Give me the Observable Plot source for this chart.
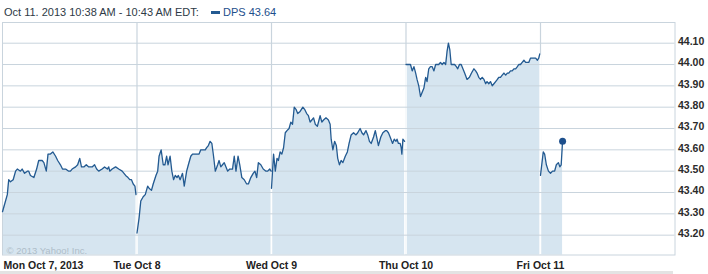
<!DOCTYPE html>
<html>
<head>
<meta charset="utf-8">
<script src="https://cdn.jsdelivr.net/npm/d3@7"></script>
<script src="https://cdn.jsdelivr.net/npm/@observablehq/plot@0.6"></script>
<style>
  html, body { margin: 0; padding: 0; background: #fff; }
  body { width: 708px; height: 274px; overflow: hidden; position: relative; font-family: "Liberation Sans", Arial, sans-serif; }
  .hdr { position: absolute; font-size: 11px; line-height: 11px; white-space: nowrap; }
  #t1 { left: 4px; top: 7px; color: #2e3a46; }
  #sw { position: absolute; left: 211px; top: 11px; width: 9px; height: 3px; background: #235a91; }
  #t2 { left: 223px; top: 7px; color: #1d4f8c; }
  #chart { position: absolute; left: 0; top: 16px; }
  #bar { position: absolute; left: 0; top: 271px; width: 673px; height: 3px; background: #e3e3e3; }
</style>
</head>
<body>
<span class="hdr" id="t1">Oct 11, 2013 10:38 AM - 10:43 AM EDT:</span>
<div id="sw"></div>
<span class="hdr" id="t2">DPS 43.64</span>
<div id="chart"></div>
<div id="bar"></div>
<script>
// Day labels (x ticks at start of each session)
const dayLabels = ["Mon Oct 7, 2013", "Tue Oct 8", "Wed Oct 9", "Thu Oct 10", "Fri Oct 11"];
const yTicks = [43.2, 43.3, 43.4, 43.5, 43.6, 43.7, 43.8, 43.9, 44.0, 44.1];
const yDomain = [43.107, 44.197];
const ticker = "DPS";
const watermark = "© 2013 Yahoo! Inc.";

// [minutes after 9:30 open, price]
const mon = [[0,43.31],[14,43.39],[18,43.46],[23,43.45],[31,43.46],[38,43.50],[43,43.51],[52,43.50],[57,43.51],[64,43.49],[72,43.50],[76,43.50],[81,43.48],[91,43.47],[99,43.51],[105,43.55],[115,43.55],[120,43.54],[127,43.50],[132,43.58],[139,43.58],[146,43.59],[154,43.57],[160,43.55],[168,43.53],[174,43.51],[183,43.51],[192,43.50],[197,43.50],[202,43.51],[212,43.52],[218,43.53],[224,43.56],[229,43.52],[236,43.52],[243,43.53],[250,43.52],[260,43.52],[267,43.53],[273,43.51],[279,43.50],[289,43.51],[296,43.52],[304,43.51],[308,43.52],[311,43.50],[318,43.51],[328,43.52],[337,43.51],[347,43.50],[357,43.48],[364,43.47],[369,43.46],[374,43.46],[379,43.44],[384,43.43],[387,43.39]];
const tue = [[0,43.21],[6,43.28],[11,43.36],[18,43.38],[24,43.39],[31,43.43],[35,43.42],[42,43.41],[47,43.44],[55,43.48],[60,43.50],[64,43.57],[70,43.60],[76,43.53],[81,43.53],[86,43.57],[90,43.53],[96,43.57],[101,43.50],[106,43.46],[111,43.48],[116,43.47],[120,43.48],[125,43.46],[132,43.49],[137,43.43],[144,43.50],[149,43.53],[156,43.57],[161,43.58],[169,43.58],[180,43.58],[185,43.60],[192,43.60],[198,43.60],[202,43.61],[207,43.62],[212,43.64],[217,43.63],[222,43.57],[227,43.50],[234,43.53],[238,43.55],[243,43.52],[248,43.53],[253,43.54],[258,43.52],[263,43.50],[269,43.51],[277,43.51],[282,43.57],[287,43.50],[293,43.57],[298,43.53],[304,43.47],[311,43.46],[318,43.44],[323,43.44],[330,43.47],[337,43.49],[342,43.50],[347,43.47],[352,43.54],[359,43.53],[366,43.51],[374,43.50],[379,43.50],[385,43.51],[389,43.50]];
const wed = [[0,43.42],[6,43.58],[11,43.50],[16,43.56],[20,43.55],[25,43.59],[30,43.58],[35,43.61],[40,43.68],[45,43.69],[51,43.70],[56,43.73],[61,43.72],[66,43.80],[71,43.79],[76,43.77],[83,43.78],[91,43.80],[96,43.79],[102,43.77],[107,43.76],[112,43.73],[117,43.74],[122,43.75],[127,43.72],[133,43.71],[141,43.76],[146,43.73],[151,43.74],[158,43.75],[165,43.74],[170,43.72],[173,43.65],[178,43.60],[183,43.64],[188,43.62],[192,43.56],[197,43.53],[202,43.55],[207,43.54],[214,43.57],[220,43.59],[225,43.63],[231,43.67],[238,43.68],[245,43.67],[250,43.68],[257,43.70],[262,43.68],[267,43.67],[274,43.69],[279,43.67],[284,43.64],[289,43.63],[296,43.66],[301,43.69],[305,43.66],[310,43.62],[317,43.66],[323,43.68],[330,43.69],[334,43.69],[339,43.68],[344,43.66],[351,43.63],[356,43.65],[361,43.64],[364,43.65],[368,43.63],[373,43.63],[376,43.61],[378,43.58],[381,43.65],[386,43.64]];
const thu = [[0,44.00],[8,44.00],[13,44.00],[18,43.97],[23,43.99],[28,43.96],[32,43.93],[37,43.90],[42,43.85],[47,43.87],[52,43.89],[57,43.94],[61,43.92],[66,43.98],[71,43.99],[76,43.99],[81,43.97],[86,44.00],[90,44.00],[95,44.00],[100,44.01],[105,44.00],[110,44.01],[115,44.00],[119,44.06],[123,44.10],[127,44.07],[131,44.00],[136,44.00],[141,44.00],[146,43.99],[150,43.98],[155,44.00],[160,44.00],[165,43.98],[170,43.96],[177,43.93],[184,43.94],[190,43.96],[197,43.98],[202,43.97],[206,43.96],[211,43.94],[216,43.93],[221,43.94],[226,43.93],[231,43.91],[235,43.92],[240,43.91],[245,43.92],[250,43.90],[255,43.91],[260,43.92],[265,43.93],[269,43.94],[274,43.94],[279,43.95],[284,43.96],[289,43.95],[294,43.96],[298,43.96],[303,43.97],[308,43.97],[313,43.98],[318,43.98],[323,43.99],[327,44.00],[332,44.00],[337,44.01],[342,44.02],[347,44.01],[352,44.01],[356,44.01],[361,44.03],[366,44.03],[371,44.03],[376,44.03],[381,44.02],[385,44.03],[388,44.05]];
const fri = [[0,43.48],[8,43.59],[12,43.58],[17,43.53],[23,43.50],[29,43.49],[35,43.50],[41,43.50],[46,43.53],[52,43.54],[56,43.52],[60,43.53],[64,43.64]];

const days = [mon, tue, wed, thu, fri];
const SESSION = 390;
const data = days.flatMap((d, i) => d.map(([m, v]) => ({day: i, t: i + m / SESSION, v})));
const bounds = [1, 2, 3, 4].map(i => ({t: i, top: Math.max(days[i - 1][days[i - 1].length - 1][1], days[i][0][1])}));
const last = data[data.length - 1];

const grid = "#c9d4dd";
const lineColor = "#235a91";
const fillColor = "#d6e5f0";

const chart = Plot.plot({
  width: 708,
  height: 255,
  marginTop: 6,
  marginBottom: 16.5,
  marginLeft: 2,
  marginRight: 33.5,
  x: {domain: [0, 5], axis: null, label: null},
  y: {domain: yDomain, axis: null, label: null},
  style: {fontFamily: "'Liberation Sans', Arial, sans-serif", fontSize: "10.5px", background: "white", overflow: "visible"},
  marks: [
    Plot.ruleX([1, 2, 3, 4], {stroke: grid, strokeWidth: 1.2}),
    Plot.areaY(data, {x: "t", y1: yDomain[0], y2: "v", z: "day", fill: fillColor, curve: "linear"}),
    Plot.ruleX(bounds, {x: "t", y1: yDomain[0], y2: "top", stroke: "white", strokeWidth: 1.5}),
    Plot.ruleY(yTicks, {stroke: grid, strokeWidth: 1}),
    Plot.frame({stroke: grid}),
    Plot.text([watermark], {frameAnchor: "bottom-left", textAnchor: "start", lineAnchor: "bottom", dx: 4, dy: -1.5, fill: "#aebdc9", fontSize: 9.5}),
    Plot.lineY(data, {x: "t", y: "v", z: "day", stroke: lineColor, strokeWidth: 1.3}),
    Plot.dot([last], {x: "t", y: "v", r: 3.5, fill: "#1d4f8c"}),
    Plot.axisY(yTicks, {anchor: "right", label: null, tickSize: 0, tickPadding: 3, tickFormat: d => d.toFixed(2), fontWeight: "bold", fill: "#2b2b2b", dy: -1.5}),
    Plot.axisX([0], {label: null, tickSize: 0, tickPadding: 7, tickFormat: i => dayLabels[i], textAnchor: "start", dx: 1, fontWeight: "bold", fill: "#222"}),
    Plot.axisX([1, 2, 3, 4], {label: null, tickSize: 0, tickPadding: 7, tickFormat: i => dayLabels[i], fontWeight: "bold", fill: "#222"})
  ]
});
document.getElementById("chart").appendChild(chart);
</script>
</body>
</html>
